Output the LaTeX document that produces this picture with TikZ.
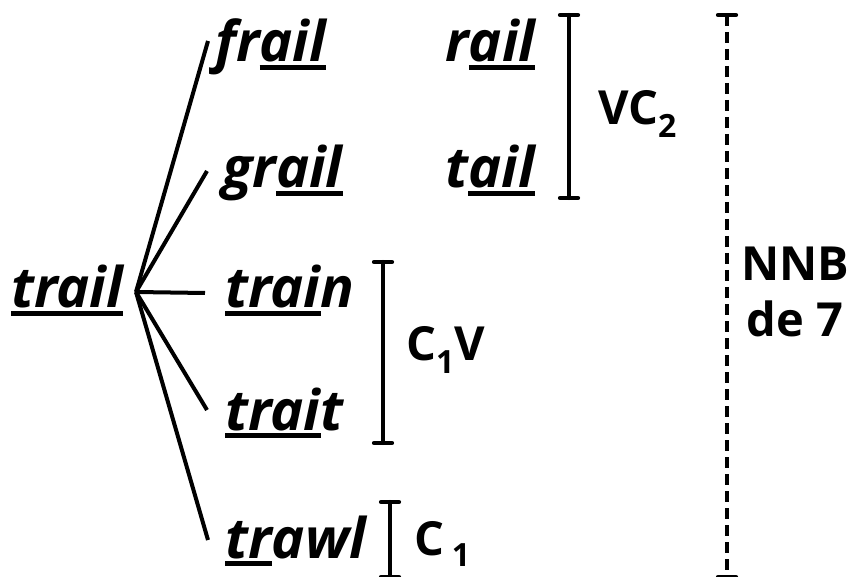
\documentclass[tikz,border=0pt]{standalone}
\usepackage{fontspec}
\setmainfont{Open Sans}
\newcommand\ulw[1]{\setbox0\hbox{#1}\rlap{\rule[-0.14em]{\wd0}{0.08em}}\box0}
\begin{document}
\begin{tikzpicture}[x=1pt,y=-1pt,
  word/.style={anchor=base west,inner sep=0pt,font=\fontsize{56}{60}\selectfont\bfseries\itshape},
  lab/.style={anchor=west,inner sep=0pt,font=\fontsize{47}{52}\selectfont\bfseries},
  fan/.style={line width=4pt},
  brk/.style={line width=4.2pt,line cap=round}]
\useasboundingbox (0,0) rectangle (851,577);
\node[word] (trail) at (11,308) {\ulw{trail}};
\coordinate (r) at (136,292);
\node[word] (frail) at (215,62) {fr\ulw{ail}};
\node[word] (rail) at (445,62) {r\ulw{ail}};
\node[word] (grail) at (222,188) {gr\ulw{ail}};
\node[word] (tail) at (445,188) {t\ulw{ail}};
\node[word] (train) at (225,308) {\ulw{trai}n};
\node[word] (trait) at (225,430) {\ulw{trai}t};
\node[word] (trawl) at (225,558) {\ulw{tr}awl};
\coordinate (e1) at (208,41);
\coordinate (e2) at (207,171);
\coordinate (e3) at (205,293);
\coordinate (e4) at (207,410);
\coordinate (e5) at (208,540);
\foreach \e in {e1,e2,e3,e4,e5} \draw[fan] (r) -- (\e);
% brackets
\draw[brk] (560,15) -- (578,15) (569,15) -- (569,198) (560,198) -- (578,198);
\node[lab] (vc2) at (598,114) {VC\raisebox{-0.28em}{\fontsize{32}{36}\selectfont 2}};
\draw[brk] (374,262) -- (392,262) (383,262) -- (383,443) (374,443) -- (392,443);
\node[lab] (c1v) at (406,350) {C\raisebox{-0.28em}{\fontsize{32}{36}\selectfont 1}V};
\draw[brk] (381,502) -- (399,502) (390,502) -- (390,577) (381,577) -- (399,577);
\node[lab] (c1) at (414,544) {C\,\raisebox{-0.25em}{\fontsize{32}{36}\selectfont 1}};
\draw[brk] (718,15) -- (736,15) (718,577) -- (736,577);
\draw[line width=4.5pt,dash pattern=on 11pt off 6pt] (727,15) -- (727,577);
\node[lab,align=center,font=\fontsize{47}{56}\selectfont\bfseries] (nnb) at (741,292) {NNB\\de 7};
\end{tikzpicture}
\end{document}
